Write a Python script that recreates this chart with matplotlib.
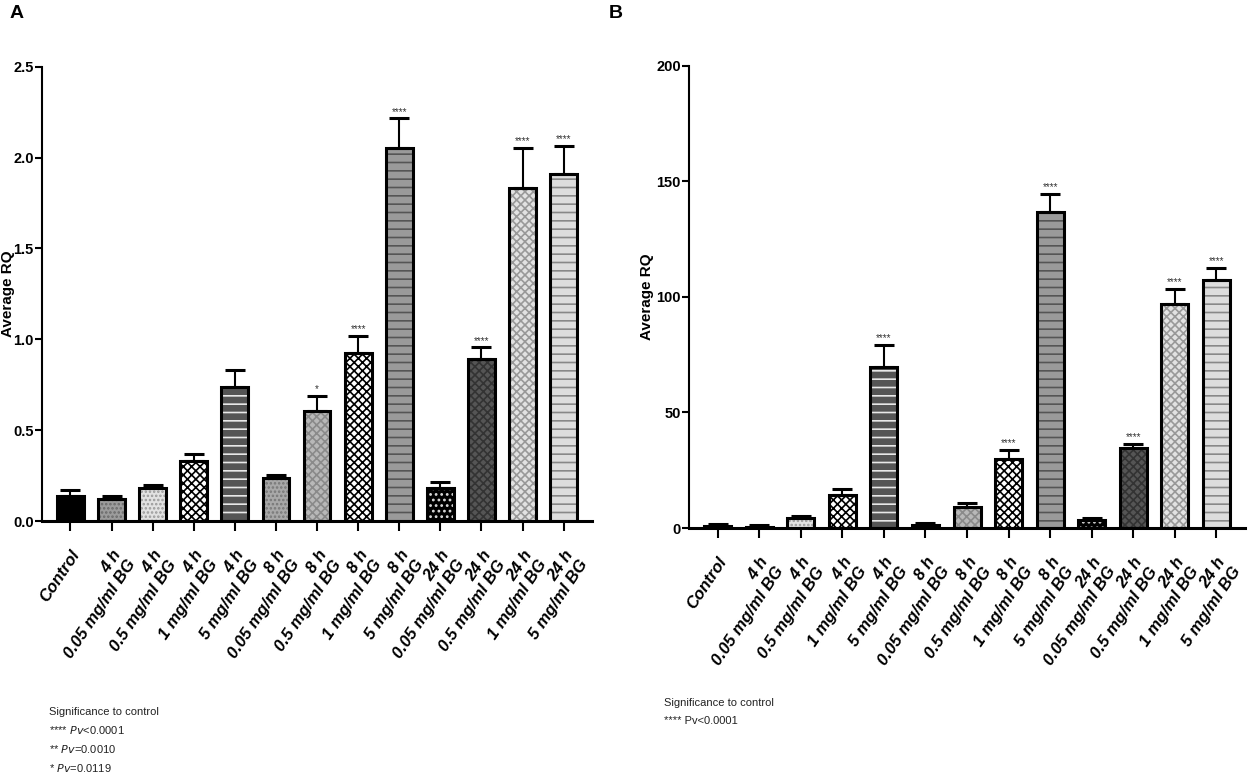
import matplotlib
matplotlib.use("Agg")
import matplotlib.pyplot as plt
import numpy as np

plt.rcParams['font.family'] = ['Liberation Sans', 'DejaVu Sans']
plt.rcParams['hatch.linewidth'] = 1.2

labels = ["Control",
          "4 h\n0.05 mg/ml BG", "4 h\n0.5 mg/ml BG", "4 h\n1 mg/ml BG", "4 h\n5 mg/ml BG",
          "8 h\n0.05 mg/ml BG", "8 h\n0.5 mg/ml BG", "8 h\n1 mg/ml BG", "8 h\n5 mg/ml BG",
          "24 h\n0.05 mg/ml BG", "24 h\n0.5 mg/ml BG", "24 h\n1 mg/ml BG", "24 h\n5 mg/ml BG"]

rq_a = [0.136, 0.12, 0.18, 0.328, 0.738, 0.235, 0.603, 0.923, 2.053, 0.183, 0.889, 1.831, 1.912]
err_a = [0.032, 0.016, 0.016, 0.039, 0.091, 0.021, 0.085, 0.096, 0.162, 0.034, 0.066, 0.222, 0.153]
stars_a = ["", "", "", "", "", "", "*", "****", "****", "", "****", "****", "****"]

rq_b = [0.75, 0.6, 4.3, 14.5, 69.6, 1.2, 8.9, 29.8, 136.7, 3.4, 34.6, 96.9, 107.3]
err_b = [1.05, 0.7, 0.9, 2.2, 9.7, 0.9, 1.8, 4.0, 7.7, 0.9, 1.9, 6.7, 5.2]
stars_b = ["", "", "", "", "****", "", "", "****", "****", "", "****", "****", "****"]

# face colour, hatch colour, hatch for each group
styles = [
    ("#000000", "#000000", None),
    ("#9c9c9c", "#6a6a6a", "...."),
    ("#e2e2e2", "#9a9a9a", "...."),
    ("#ffffff", "#000000", "xxxx"),
    ("#555555", "#e8e8e8", "--"),
    ("#a8a8a8", "#777777", "...."),
    ("#b8b8b8", "#8a8a8a", "xxxx"),
    ("#ffffff", "#000000", "xxxx"),
    ("#9a9a9a", "#555555", "--"),
    ("#000000", "#dddddd", "..."),
    ("#555555", "#333333", "xxxx"),
    ("#e2e2e2", "#999999", "xxxx"),
    ("#dddddd", "#888888", "--"),
]

tick_font = dict(family=['Liberation Sans Narrow', 'Liberation Sans', 'DejaVu Sans'],
                 weight='bold', size=10.5)


def draw_panel(ax, vals, errs, stars, ymax, yticks, ylabels, star_off):
    x = np.arange(len(vals))
    w = 0.65
    for i, v in enumerate(vals):
        face, hc, hatch = styles[i]
        ax.bar(x[i], v, w, color=face, edgecolor=hc, hatch=hatch, linewidth=0, zorder=2)
        ax.bar(x[i], v, w, fill=False, edgecolor='black', linewidth=2.2, zorder=3)
    ax.errorbar(x, vals, yerr=[np.zeros(len(vals)), errs], fmt='none', ecolor='black',
                elinewidth=1.5, capsize=7, capthick=2.2, zorder=4)
    for i, s in enumerate(stars):
        if s:
            ax.text(x[i], vals[i] + errs[i] + star_off, s, ha='center', va='bottom',
                    fontsize=7, color='#333333')
    ax.set_xlim(-0.69, len(vals) - 0.31)
    ax.set_ylim(0, ymax)
    ax.set_yticks(yticks)
    ax.set_yticklabels(ylabels)
    ax.set_xticks(x)
    ax.set_xticklabels(labels, rotation=56, ha='right', va='top', rotation_mode='anchor',
                       multialignment='right', fontsize=12, fontweight='bold', fontstyle='italic')
    for t in ax.get_yticklabels():
        t.set_fontproperties(matplotlib.font_manager.FontProperties(**tick_font))
    ax.spines['top'].set_visible(False)
    ax.spines['right'].set_visible(False)
    ax.spines['left'].set_linewidth(1.5)
    ax.spines['bottom'].set_linewidth(2.2)
    ax.tick_params(axis='x', length=7, width=1.5, pad=12)
    ax.tick_params(axis='y', length=5, width=1.5, pad=1)
    ax.set_ylabel("Average RQ", fontsize=11, fontweight='bold')


fig = plt.figure(figsize=(12.48, 7.78), dpi=100)
ax_a = fig.add_axes([0.0337, 0.3303, 0.4407, 0.584])
ax_b = fig.add_axes([0.5521, 0.3213, 0.4455, 0.594])

draw_panel(ax_a, rq_a, err_a, stars_a, 2.5, [0.0, 0.5, 1.0, 1.5, 2.0, 2.5],
           ["0.0", "0.5", "1.0", "1.5", "2.0", "2.5"], 0.01)
draw_panel(ax_b, rq_b, err_b, stars_b, 200, [0, 50, 100, 150, 200],
           ["0", "50", "100", "150", "200"], 0.8)
ax_a.yaxis.set_label_coords(-0.05, 0.5)
ax_b.yaxis.set_label_coords(-0.063, 0.5)

fig.text(0.013, 0.983, "A", fontsize=14, fontweight='bold', va='center', ha='center')
fig.text(0.493, 0.983, "B", fontsize=14, fontweight='bold', va='center', ha='center')

foot = dict(family=['Liberation Sans Narrow', 'Liberation Sans', 'DejaVu Sans'], size=8, color='#222222')
fig.text(0.039, 1 - 712 / 778, "Significance to control", va='center', **foot)
fig.text(0.039, 1 - 730 / 778, r"**** $\it{Pv}$<0.0001", va='center', **foot)
fig.text(0.039, 1 - 749 / 778, r"** $\it{Pv}$=0.0010", va='center', **foot)
fig.text(0.039, 1 - 768 / 778, r"* $\it{Pv}$=0.0119", va='center', **foot)
fig.text(0.532, 1 - 703 / 778, "Significance to control", va='center', **foot)
fig.text(0.532, 1 - 721 / 778, "**** Pv<0.0001", va='center', **foot)

fig.savefig("out.png", dpi=100)
